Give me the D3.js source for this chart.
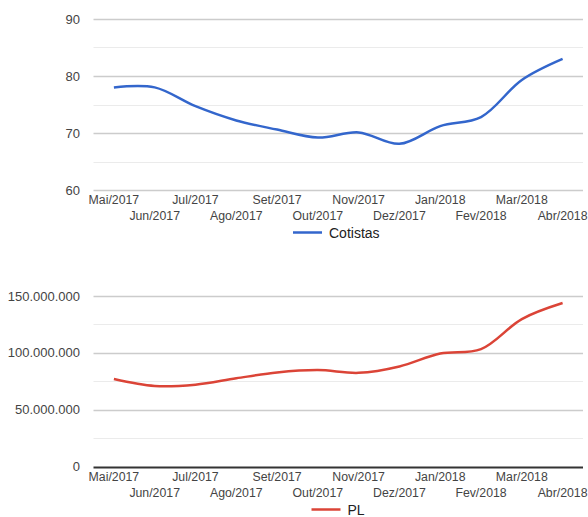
<!DOCTYPE html>
<html>
<head>
<meta charset="utf-8">
<script src="https://cdn.jsdelivr.net/npm/d3@7"></script>
<style>
  body { margin: 0; background: #fff; }
  svg { display: block; font-family: "Liberation Sans", Arial, sans-serif; }
</style>
</head>
<body>
<div id="chart"></div>
<script>
const months = ['Mai/2017', 'Jun/2017', 'Jul/2017', 'Ago/2017', 'Set/2017', 'Out/2017',
  'Nov/2017', 'Dez/2017', 'Jan/2018', 'Fev/2018', 'Mar/2018', 'Abr/2018'];
const cotistas = [78, 78, 74.7, 72.2, 70.6, 69.2, 70.1, 68.1, 71.2, 72.8, 79.3, 83];
const pl = [76.9e6, 70.8e6, 72.0e6, 77.6e6, 82.7e6, 84.8e6, 82.4e6, 88e6, 99.4e6, 103.3e6, 129.7e6, 143.8e6];
const cotistasTicks = [60, 70, 80, 90];
const cotistasMinor = [65, 75, 85];
const plTicks = [0, 50e6, 100e6, 150e6];
const plMinor = [25e6, 75e6, 125e6];

const width = 588, height = 517;
const svg = d3.select('#chart').append('svg').attr('width', width).attr('height', height);

const ptBR = d3.formatLocale({ decimal: ',', thousands: '.', grouping: [3], currency: ['R$', ''] });

const x = d3.scalePoint().domain(months).range([93.5, 583]).padding(0.5);

// one chart panel
function drawChart(cfg) {
  const g = svg.append('g');
  const y = d3.scaleLinear().domain(cfg.domain).range([cfg.bottom, cfg.top]);

  g.selectAll('.minor').data(cfg.minor).enter().append('line')
    .attr('x1', 93.5).attr('x2', 583)
    .attr('y1', d => Math.round(y(d)) + 0.5).attr('y2', d => Math.round(y(d)) + 0.5)
    .attr('stroke', '#ebebeb').attr('stroke-width', 1);

  g.selectAll('.major').data(cfg.ticks).enter().append('line')
    .attr('x1', 93.5).attr('x2', 583)
    .attr('y1', d => Math.round(y(d)) + 0.5).attr('y2', d => Math.round(y(d)) + 0.5)
    .attr('stroke', d => (cfg.baseline && d === 0) ? '#333' : '#ccc')
    .attr('stroke-width', d => (cfg.baseline && d === 0) ? 2 : 1.5);

  g.selectAll('.ylab').data(cfg.ticks).enter().append('text')
    .attr('x', 80).attr('y', d => y(d) + 4.5)
    .attr('text-anchor', 'end').attr('font-size', 13).attr('fill', '#444')
    .text(cfg.fmt);

  g.selectAll('.xlab').data(months).enter().append('text')
    .attr('x', d => x(d))
    .attr('y', (d, i) => cfg.bottom + (i % 2 === 0 ? 14 : 30))
    .attr('text-anchor', 'middle').attr('font-size', 12.3).attr('fill', '#444')
    .text(d => d);

  const line = d3.line()
    .x((d, i) => x(months[i]))
    .y(d => y(d))
    .curve(d3.curveCatmullRom.alpha(0.5));

  g.append('path').datum(cfg.values)
    .attr('d', line)
    .attr('fill', 'none').attr('stroke', cfg.color).attr('stroke-width', 2.5)
    .attr('stroke-linejoin', 'round');

  // legend
  const lg = g.append('g').attr('transform', `translate(${cfg.legendX},${cfg.legendY})`);
  lg.append('line').attr('x1', 0).attr('x2', 29).attr('y1', 0).attr('y2', 0)
    .attr('stroke', cfg.color).attr('stroke-width', 2.5);
  lg.append('text').attr('x', 36).attr('y', 5).attr('font-size', 14).attr('fill', '#222')
    .text(cfg.name);
}

drawChart({
  name: 'Cotistas', values: cotistas, color: '#3366cc',
  domain: [60, 90], ticks: cotistasTicks, minor: cotistasMinor,
  top: 19, bottom: 190, fmt: d => d, baseline: false,
  legendX: 293, legendY: 232.5
});

drawChart({
  name: 'PL', values: pl, color: '#db4437',
  domain: [0, 150e6], ticks: plTicks, minor: plMinor,
  top: 296, bottom: 466.5, fmt: ptBR.format(',d'), baseline: true,
  legendX: 311.5, legendY: 509.5
});
</script>
</body>
</html>
